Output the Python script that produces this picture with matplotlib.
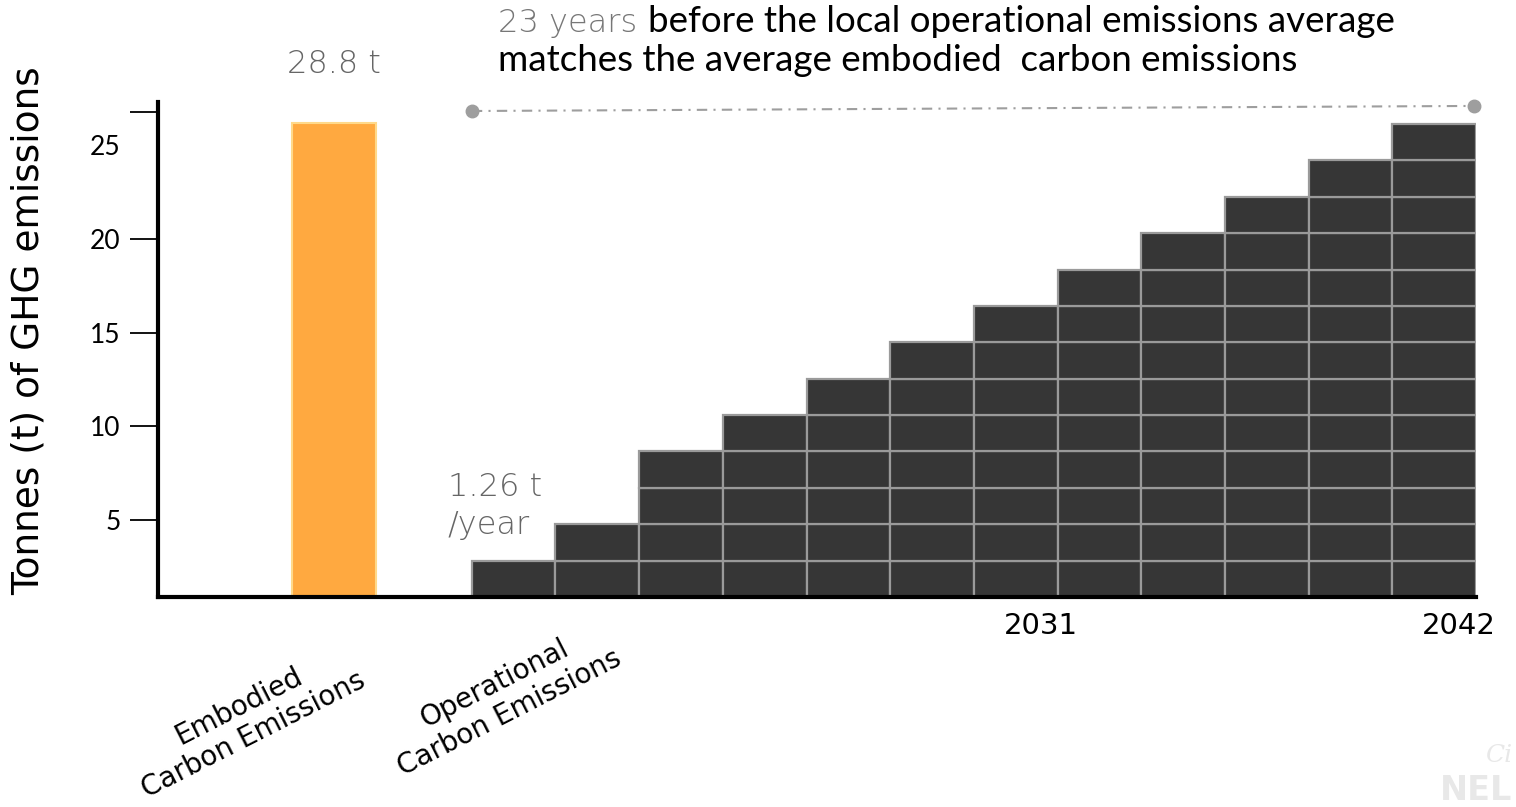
import numpy as np
import matplotlib.pyplot as plt

# values
embodied_top = 26.15          # top of the embodied bar on the axis scale
block_t = 1.94                # tonnes per stacked block
blocks_per_col = [1, 2, 4, 5, 6, 7, 8, 9, 10, 11, 12, 13]
year_labels = ['2031', '2042']
year_cols = [6, 11]
categories = ['Embodied\nCarbon Emissions', 'Operational\nCarbon Emissions']
y_ticks = [5, 10, 15, 20, 25]
base = 0.9

W, H = 1516, 807
fig = plt.figure(figsize=(W / 100, H / 100), dpi=100)
ax = fig.add_axes([158 / W, 1 - 597 / H, (1476 - 158) / W, (597 - 102) / H])

main_font = ['DejaVu Sans']
thin_font = ['Lato', 'DejaVu Sans']

# embodied bar
emb_x = -2.15
ax.bar(emb_x, embodied_top - base, bottom=base, width=1.0,
       color='#ffa940', edgecolor='#ffd98a', linewidth=1.5, zorder=2)

# operational stacked blocks
cols = np.arange(len(blocks_per_col))
for c, n in zip(cols, blocks_per_col):
    for k in range(n):
        ax.bar(c, block_t, bottom=base + k * block_t, width=1.0,
               color='#363636', edgecolor='#9a9a9a', linewidth=1.6, zorder=2)

# "23 years" bracket line
ax.plot([cols[0] - 0.5, cols[-1] + 0.48], [26.81, 27.08], color='#9e9e9e',
        lw=1.5, linestyle=(0, (5, 3, 1, 3)), marker='o', markersize=9,
        clip_on=False, zorder=3)

ax.set_xlim(-4.25, 11.5)
ax.set_ylim(base, 27.29)

for s in ['top', 'right']:
    ax.spines[s].set_visible(False)
ax.spines['left'].set_linewidth(3)
ax.spines['bottom'].set_linewidth(3)
ax.set_xticks([])
ax.set_yticks(y_ticks)
ax.set_yticklabels([str(t) for t in y_ticks], fontsize=19, family=thin_font)
ax.tick_params(axis='y', which='both', length=20, width=1.3, pad=7)
ax.yaxis.get_major_ticks()[-1].tick1line.set_visible(False)
ax.set_yticks([26.77], minor=True)
ax.set_yticklabels([''], minor=True)

# y label
fig.text(29 / W, 1 - 331 / H, 'Tonnes (t) of GHG emissions', fontsize=27,
         family=main_font, rotation=90, ha='center', va='center')

xt = ax.get_xaxis_transform()
for lab, c in zip(year_labels, year_cols):
    ax.text(c + 0.3, -0.058, lab, transform=xt, ha='center', va='center',
            fontsize=21, family=main_font)

ax.text(-3.2, -0.250, categories[0], transform=xt, ha='center', va='center',
        rotation=27, rotation_mode='anchor', multialignment='center',
        fontsize=20, family=main_font)
ax.text(-0.14, -0.205, categories[1], transform=xt, ha='center', va='center',
        rotation=27, rotation_mode='anchor', multialignment='center',
        fontsize=20, family=main_font)

# value annotations
ax.text(emb_x, 29.3, '28.8 t', ha='center', va='center', fontsize=23,
        color='#666666', family=main_font, fontweight='light')
ax.text(-0.79, 5.75, '1.26 t\n/year', ha='left', va='center', fontsize=23,
        color='#666666', family=main_font, fontweight='light', linespacing=1.3)

# title
t1 = fig.text(498 / W, 1 - 32 / H, '23 years', fontsize=23, color='#777777',
              family=main_font, fontweight='light', va='baseline')
fig.canvas.draw()
ax.annotate('before the local operational emissions average', xy=(1, 0),
            xycoords=t1, xytext=(8, 0), textcoords='offset points',
            fontsize=26.5, family=thin_font, va='bottom', ha='left')
fig.text(498 / W, 1 - 71 / H, 'matches the average embodied  carbon emissions',
         fontsize=26.5, family=thin_font, va='baseline')

# faint watermark
fig.text(1512 / W, 1 - 800 / H, 'NEL', fontsize=24, fontweight='bold',
         color='#e8e8e8', family=['DejaVu Sans'], ha='right')
fig.text(1512 / W, 1 - 762 / H, 'Ci', fontsize=18, style='italic',
         color='#e8e8e8', family=['DejaVu Serif'], ha='right')

fig.savefig('out.png', dpi=100)
